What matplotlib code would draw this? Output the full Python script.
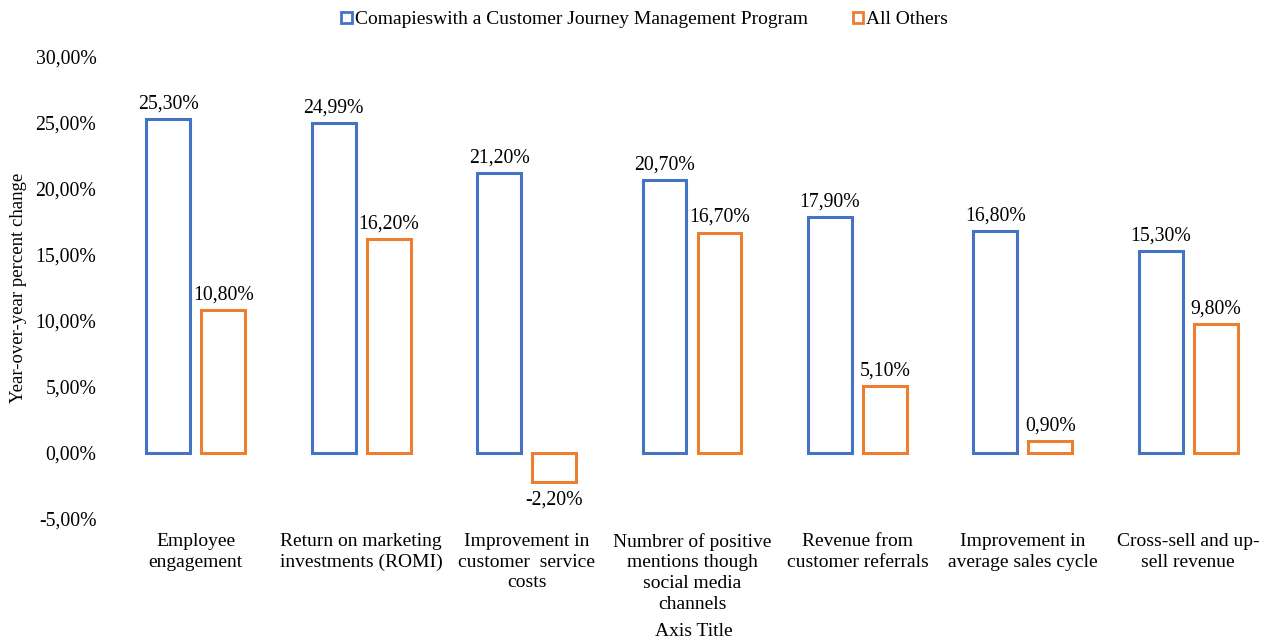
import numpy as np
import matplotlib.pyplot as plt
from matplotlib.patches import Patch

categories = [
    "Employee\nengagement",
    "Return on marketing\ninvestments (ROMI)",
    "Improvement in\ncustomer  service\ncosts",
    "Numbrer of positive\nmentions though\nsocial media\nchannels",
    "Revenue from\ncustomer referrals",
    "Improvement in\naverage sales cycle",
    "Cross-sell and up-\nsell revenue",
]
program_vals = [25.30, 24.99, 21.20, 20.70, 17.90, 16.80, 15.30]
others_vals = [10.80, 16.20, -2.20, 16.70, 5.10, 0.90, 9.80]
series_names = ["Comapieswith a Customer Journey Management Program", "All Others"]
yticks = [-5, 0, 5, 10, 15, 20, 25, 30]

BLUE = "#4472C4"
ORANGE = "#ED7D31"

plt.rcParams["font.family"] = ["Liberation Serif", "DejaVu Serif"]
plt.rcParams["font.size"] = 14.2

fig = plt.figure(figsize=(12.69, 6.39), dpi=100)
ax = fig.add_axes([113 / 1269, 1 - 519 / 639, 1158 / 1269, 462 / 639])

x = np.arange(len(categories))
w = 0.265
off = 0.166
lw = 2.2

b1 = ax.bar(x - off, program_vals, w, facecolor="white", edgecolor=BLUE, linewidth=lw)
b2 = ax.bar(x + off, others_vals, w, facecolor="white", edgecolor=ORANGE, linewidth=lw)


def fmt(v):
    return f"{v:.2f}".replace(".", ",") + "%"


for bars, vals in [(b1, program_vals), (b2, others_vals)]:
    for rect, v in zip(bars, vals):
        cx = rect.get_x() + rect.get_width() / 2
        if v >= 0:
            ax.annotate(fmt(v), (cx, v), xytext=(0, 4), textcoords="offset points",
                        ha="center", va="bottom")
        else:
            ax.annotate(fmt(v), (cx, v), xytext=(0, -6), textcoords="offset points",
                        ha="center", va="top")

ax.set_xlim(-0.5, len(categories) - 0.5)
ax.set_ylim(-5, 30)
ax.set_yticks(yticks)
ax.set_yticklabels([fmt(t) for t in yticks])
ax.set_xticks(x)
ax.set_xticklabels(categories, linespacing=1.28, fontsize=14)
ax.tick_params(axis="both", length=0)
ax.tick_params(axis="y", pad=12)
ax.tick_params(axis="x", pad=10)
for s in ax.spines.values():
    s.set_visible(False)

ax.set_ylabel("Year-over-year percent change", fontsize=13.5)
ax.yaxis.set_label_coords((27 - 113) / 1158, 0.5)
fig.text(694 / 1269, 1 - 631 / 639, "Axis Title", ha="center", va="center", fontsize=14)

handles = [Patch(facecolor="white", edgecolor=BLUE, linewidth=2),
           Patch(facecolor="white", edgecolor=ORANGE, linewidth=2)]
fig.legend(handles, series_names, loc="center", bbox_to_anchor=(0.508, 1 - 20 / 639),
           ncol=2, frameon=False, handlelength=0.55, handleheight=0.55,
           handletextpad=0.15, columnspacing=2.3, fontsize=14)

fig.savefig("out.png", dpi=100)
